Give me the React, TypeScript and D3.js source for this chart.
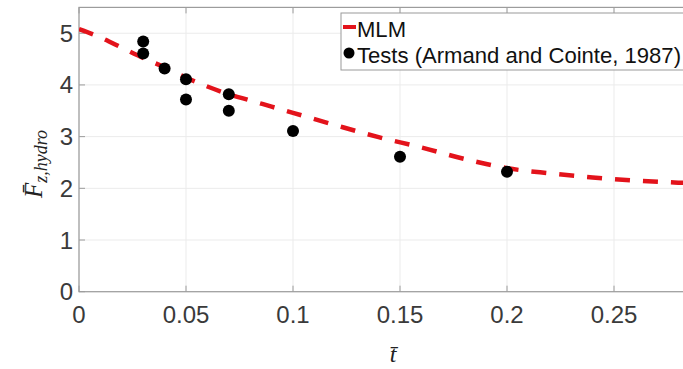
import React from "react";
import * as d3 from "d3";

const mlmT = [0, 0.01, 0.02, 0.03, 0.04, 0.05, 0.06, 0.07, 0.08, 0.09, 0.1, 0.12, 0.14, 0.16, 0.18, 0.2, 0.22, 0.24, 0.26, 0.28, 0.3];
const mlmF = [5.08, 4.92, 4.72, 4.52, 4.34, 4.14, 3.97, 3.82, 3.7, 3.58, 3.46, 3.22, 2.99, 2.79, 2.57, 2.39, 2.29, 2.21, 2.15, 2.11, 2.08];

const testT = [0.03, 0.03, 0.04, 0.05, 0.05, 0.07, 0.07, 0.1, 0.15, 0.2];
const testF = [4.84, 4.61, 4.32, 4.11, 3.72, 3.82, 3.5, 3.11, 2.61, 2.32];

const xTicks = [0, 0.05, 0.1, 0.15, 0.2, 0.25, 0.3];
const yTicks = [0, 1, 2, 3, 4, 5];

const legendLabels = ["MLM", "Tests (Armand and Cointe, 1987)"];

const W = 683, H = 369;
const left = 79, right = 721, top = 7.4, bottom = 291.7;
const red = "#e3131b";
const axisCol = "#9c9c9c";
const font = "Arial, 'Liberation Sans', sans-serif";
const serif = "'Liberation Serif', 'DejaVu Serif', serif";

export default function App() {
  const x = d3.scaleLinear().domain([0, 0.3]).range([left, right]);
  const y = d3.scaleLinear().domain([0, 5.5]).range([bottom, top]);
  const fmt = d3.format("~g");

  const line = d3.line<number>()
    .x((_, i) => x(mlmT[i]))
    .y(d => y(d))
    .curve(d3.curveMonotoneX);

  return (
    <svg width={W} height={H} style={{ position: "absolute", left: 0, top: 0, background: "#fff" }}>
      <defs>
        <clipPath id="plot">
          <rect x={left} y={top} width={right - left} height={bottom - top} />
        </clipPath>
      </defs>
      {/* grid */}
      {xTicks.map(t => (
        <line key={"gx" + t} x1={x(t)} x2={x(t)} y1={top} y2={bottom} stroke="#ebebeb" strokeWidth={1} />
      ))}
      {yTicks.map(t => (
        <line key={"gy" + t} x1={left} x2={right} y1={y(t)} y2={y(t)} stroke="#ebebeb" strokeWidth={1} />
      ))}
      {/* box */}
      <rect x={left} y={top} width={right - left} height={bottom - top} fill="none" stroke={axisCol} strokeWidth={1.2} />
      {xTicks.map(t => (
        <g key={"tx" + t}>
          <line x1={x(t)} x2={x(t)} y1={bottom} y2={bottom - 6} stroke={axisCol} />
          <line x1={x(t)} x2={x(t)} y1={top} y2={top + 6} stroke={axisCol} />
          {x(t) + 20 < W && (
            <text x={x(t)} y={bottom + 31} textAnchor="middle" fontFamily={font} fontSize={24} fill="#3a3a3a">{fmt(t)}</text>
          )}
        </g>
      ))}
      {yTicks.map(t => (
        <g key={"ty" + t}>
          <line x1={left} x2={left + 6} y1={y(t)} y2={y(t)} stroke={axisCol} />
          <text x={left - 6} y={y(t) + 8.5} textAnchor="end" fontFamily={font} fontSize={24} fill="#3a3a3a">{t}</text>
        </g>
      ))}
      {/* data */}
      <g clipPath="url(#plot)">
        <path d={line(mlmF) ?? ""} fill="none" stroke={red} strokeWidth={4.5} strokeDasharray="15 13" />
        {testT.map((t, i) => (
          <circle key={"p" + i} cx={x(t)} cy={y(testF[i])} r={6} fill="#000" />
        ))}
      </g>
      {/* legend */}
      <rect x={341} y={13} width={360} height={57} fill="#fff" stroke="#9a9a9a" strokeWidth={1} />
      <line x1={343} x2={356} y1={27} y2={27} stroke={red} strokeWidth={4} />
      <circle cx={349} cy={53} r={5.5} fill="#000" />
      <text x={357} y={37} fontFamily={font} fontSize={22} textLength={49} lengthAdjust="spacingAndGlyphs" fill="#111">{legendLabels[0]}</text>
      <text x={357} y={63} fontFamily={font} fontSize={22} textLength={324} lengthAdjust="spacingAndGlyphs" fill="#111">{legendLabels[1]}</text>
      {/* axis labels */}
      <text transform="translate(42,198) rotate(-90)" fontFamily={serif} fontStyle="italic" fill="#222">
        <tspan fontSize={25}>{"F\u0304"}</tspan>
        <tspan fontSize={18} dy={5}>z,hydro</tspan>
      </text>
      <text x={393} y={362} textAnchor="middle" fontFamily={serif} fontStyle="italic" fontSize={24} fill="#222">{"t\u0304"}</text>
    </svg>
  );
}
